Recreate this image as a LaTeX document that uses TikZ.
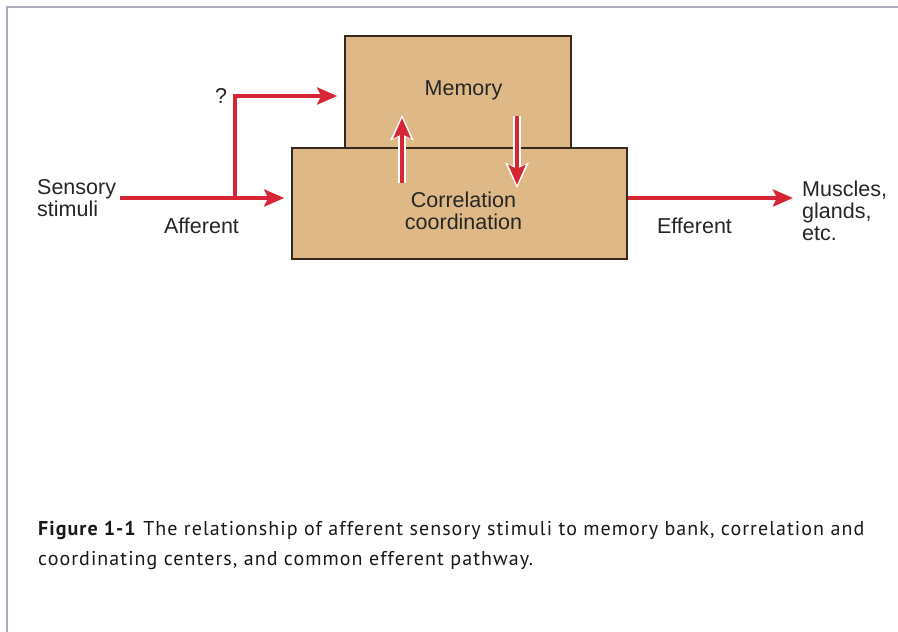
\documentclass[tikz,border=0pt]{standalone}
\usepackage{fontspec}
\setmainfont{Liberation Sans}
\newfontfamily\capfont[LetterSpace=5.3]{PT Sans}
\usetikzlibrary{arrows.meta}
\definecolor{boxfill}{RGB}{222,184,135}
\definecolor{boxline}{RGB}{55,40,30}
\definecolor{arrred}{RGB}{214,37,52}
\definecolor{framegray}{RGB}{172,172,188}
\begin{document}
\begin{tikzpicture}[x=1pt,y=1pt,
  box/.style={draw=boxline,line width=1.6pt,fill=boxfill,inner sep=0pt},
  lbl/.style={font=\fontsize{21.5}{22}\selectfont,inner sep=0pt,text=black!85},
  redarrow/.style={draw=arrred,line width=4pt,-{Stealth[length=20pt,width=17pt,inset=4pt]}},
  outarrow/.style={draw=white,line width=8pt,-{Stealth[length=25pt,width=23pt,inset=5pt]}},
  capstyle/.style={font=\capfont\fontsize{20}{28}\selectfont,inner sep=0pt,anchor=base west,text=black!90}]
\useasboundingbox (0,0) rectangle (898,-632);
\fill[white] (0,0) rectangle (898,-632);
% frame
\draw[framegray,line width=1.5pt] (7,-632) -- (7,-7) -- (898,-7);
% boxes
\node[box,minimum width=335pt,minimum height=111pt] (corr) at (459.5,-203.5) {};
\node[box,minimum width=226pt,minimum height=112pt] (mem) at (458,-92) {};
% labels (base anchor = baseline of last line)
\node[lbl,anchor=base] (memlbl) at (463.5,-95) {Memory};
\node[lbl,align=center,anchor=base] (corrlbl) at (463.5,-229) {Correlation\\coordination};
\node[lbl,align=left,anchor=base west] (sens) at (37,-216) {Sensory\\stimuli};
\node[lbl,anchor=base] (aff) at (201.5,-233) {Afferent};
\node[lbl,anchor=base] (eff) at (694.5,-233) {Efferent};
\node[lbl,align=left,anchor=base west] (musc) at (802,-240) {Muscles,\\glands,\\etc.};
\node[lbl,anchor=base] (q) at (221,-103) {?};
% connector coordinates
\coordinate (s) at (120,-198);
\coordinate (b) at (235,-198);
\coordinate (bt) at (235,-96);
\coordinate (m) at (793,-198);
\coordinate (u1) at (402,-183);
\coordinate (u2) at (402,-118);
\coordinate (d1) at (517,-116);
\coordinate (d2) at (517,-185);
% arrows
\draw[redarrow,shorten >=7pt] (s) -- (s -| corr.west);
\draw[redarrow,shorten >=7pt,line join=miter] (b) -- (bt) -- (bt -| mem.west);
\draw[redarrow] (s -| corr.east) -- (m);
\draw[outarrow] (u1) -- ([yshift=3pt]u2);
\draw[redarrow] (u1) -- (u2);
\draw[outarrow] (d1) -- ([yshift=-3pt]d2);
\draw[redarrow] (d1) -- (d2);
% caption
\node[capstyle] (cap1) at (38,-535) {\textbf{Figure 1-1} The relationship of afferent sensory stimuli to memory bank, correlation and};
\node[capstyle] (cap2) at (38,-565) {coordinating centers, and common efferent pathway.};
\end{tikzpicture}
\end{document}
